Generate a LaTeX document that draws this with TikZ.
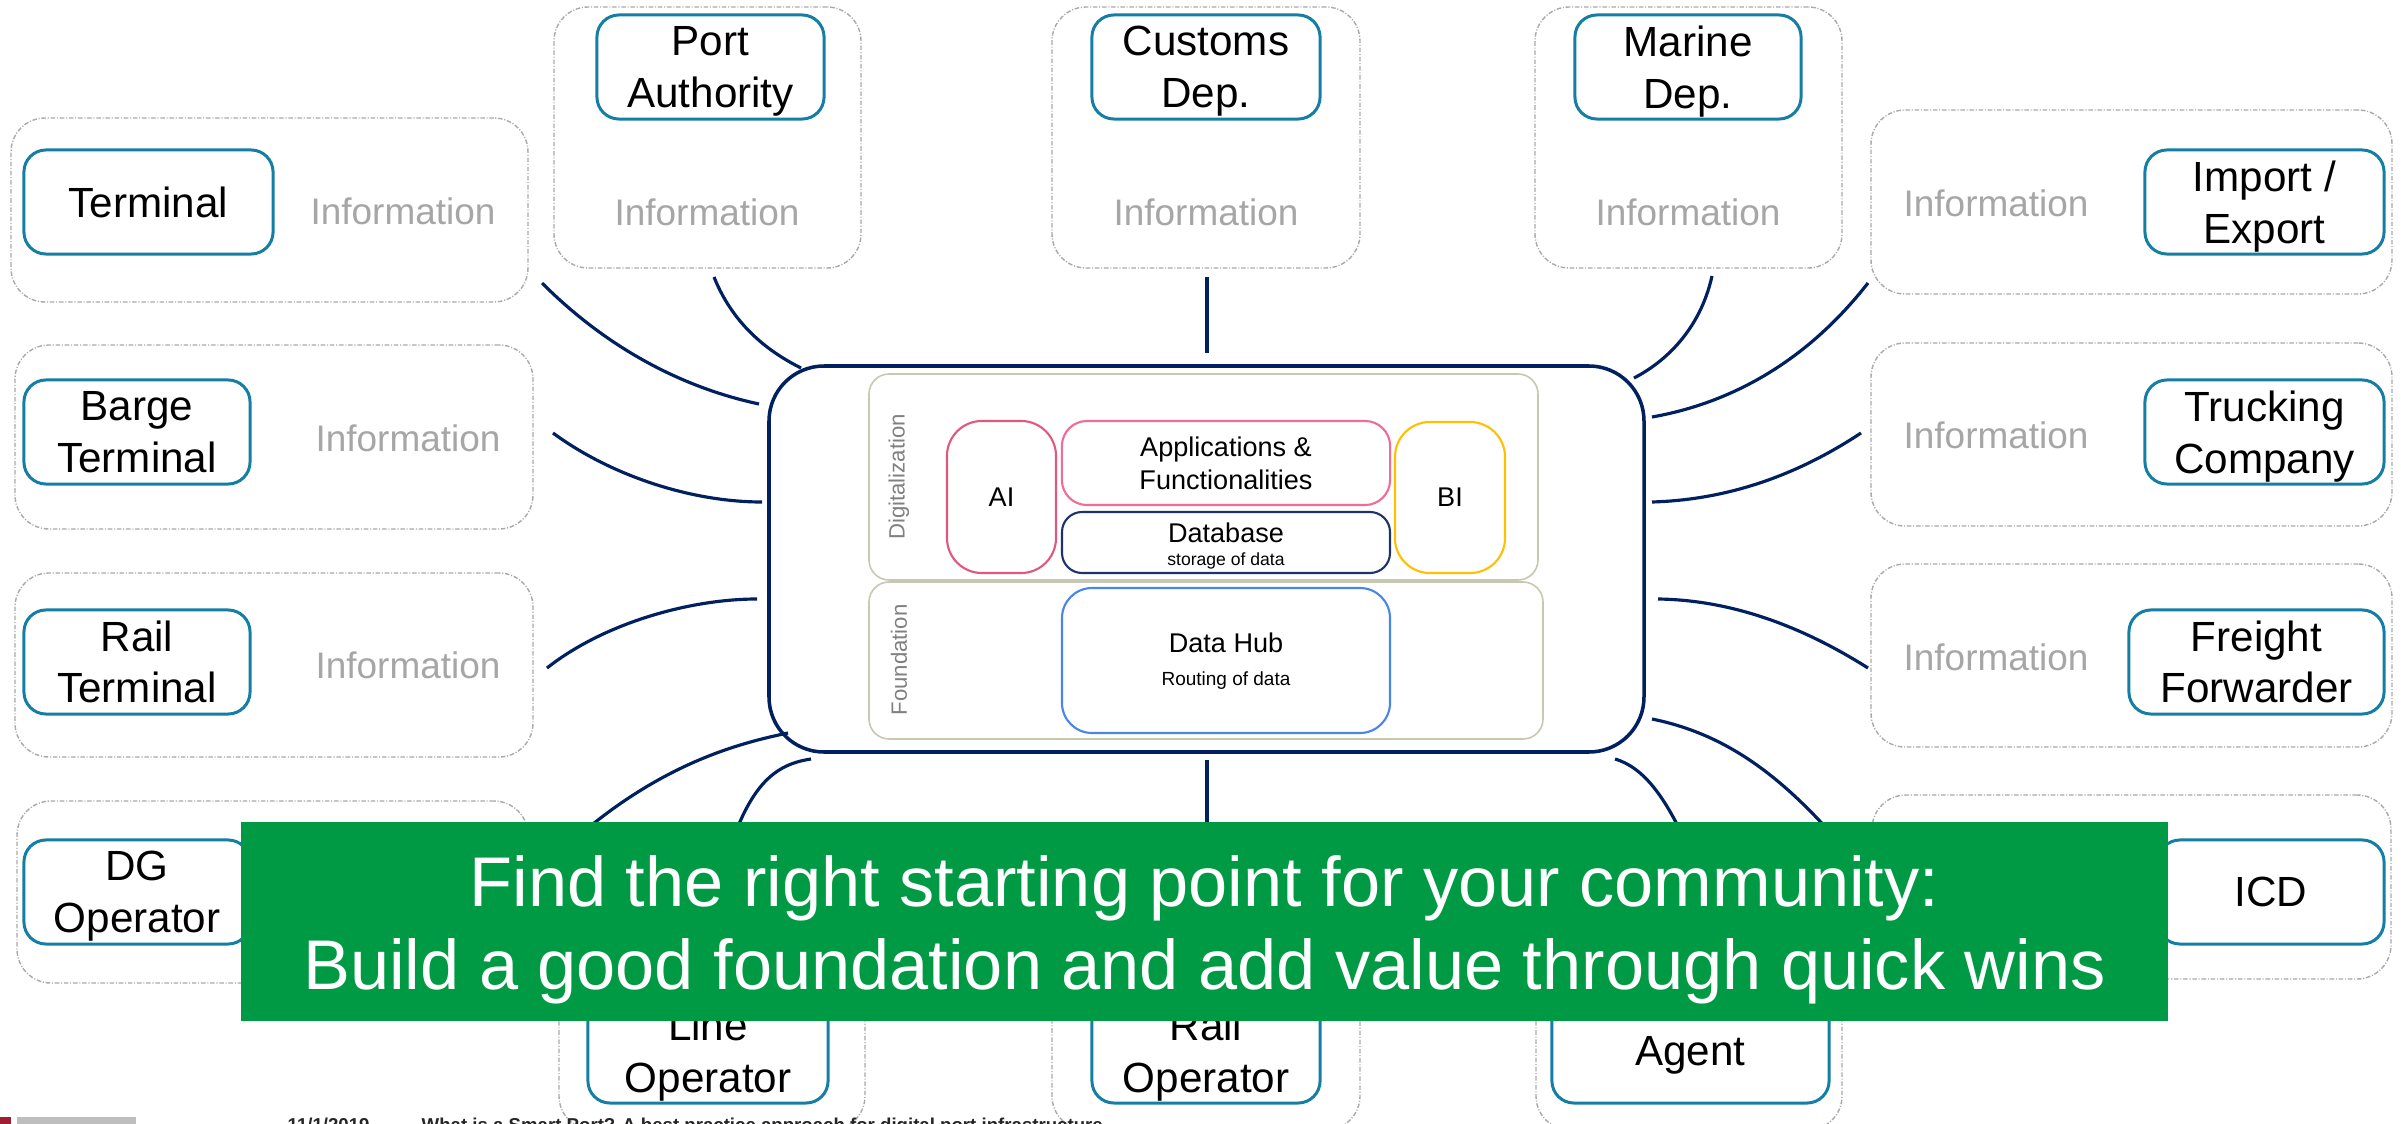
\documentclass[tikz,border=0pt]{standalone}
\usepackage{fontspec}
\setmainfont{Liberation Sans}
\usetikzlibrary{fit}
\definecolor{entc}{RGB}{20,126,164}
\definecolor{grpc}{RGB}{170,170,170}
\definecolor{infoc}{RGB}{166,166,166}
\definecolor{navy}{RGB}{0,32,96}
\definecolor{panelc}{RGB}{200,200,178}
\definecolor{aic}{RGB}{224,88,128}
\definecolor{appc}{RGB}{240,108,148}
\definecolor{bic}{RGB}{255,192,0}
\definecolor{dbc}{RGB}{30,50,110}
\definecolor{hubc}{RGB}{74,134,232}
\definecolor{bannerc}{RGB}{0,154,68}
\definecolor{rotc}{RGB}{128,128,128}
\definecolor{logored}{RGB}{160,30,50}
\definecolor{logogray}{RGB}{190,190,190}
\newcommand{\nd}[1]{\raisebox{0pt}[\height][0pt]{#1}}
\begin{document}
\begin{tikzpicture}[x=0.01cm,y=-0.01cm,
  grp/.style={draw=grpc, line width=0.4pt, dash pattern=on 1.3pt off 0.5pt on 0.3pt off 0.5pt, rounded corners=0.34cm, inner sep=0pt, outer sep=0pt},
  ent/.style={draw=entc, line width=0.85pt, rounded corners=0.22cm, fill=white, inner sep=0pt, outer sep=0pt, align=center, font=\fontsize{12}{14.7}\selectfont, text=black, minimum height=1.04cm},
  info/.style={text=infoc, font=\fontsize{10.5}{12}\selectfont, inner sep=0pt},
  link/.style={draw=navy, line width=0.9pt},
  panel/.style={draw=panelc, line width=0.45pt, rounded corners=0.2cm, inner sep=0pt, outer sep=0pt},
  inbox/.style={line width=0.6pt, inner sep=0pt, outer sep=0pt, align=center, font=\fontsize{7.7}{9.4}\selectfont},
  rot/.style={text=rotc, font=\fontsize{6.3}{7.5}\selectfont, inner sep=0pt, rotate=90},
  small/.style={inner sep=0pt, font=\fontsize{7.7}{9.4}\selectfont},
  bt/.style={text=white, inner sep=0pt, font=\fontsize{20}{24}\selectfont},
  foot/.style={text=black!85, inner sep=0pt, font=\bfseries\fontsize{5.3}{6}\selectfont}
]
\useasboundingbox (0,0) rectangle (2405,1124);
\fill[white] (0,0) rectangle (2405,1124);
\clip (0,0) rectangle (2405,1124);

% group (dashed) boxes
\node[grp, fit={(11,118) (528,302)}] (g1) {};
\node[grp, fit={(15,345) (533,529)}] (g2) {};
\node[grp, fit={(15,573) (533,757)}] (g3) {};
\node[grp, fit={(17,801) (528,983)}] (g4) {};
\node[grp, fit={(554,7) (861,268)}] (g5) {};
\node[grp, fit={(1052,7) (1360,268)}] (g6) {};
\node[grp, fit={(1535,7) (1842,268)}] (g7) {};
\node[grp, fit={(1871,110) (2392,294)}] (g8) {};
\node[grp, fit={(1871,343) (2392,526)}] (g9) {};
\node[grp, fit={(1871,564) (2392,747)}] (g10) {};
\node[grp, fit={(1872,795) (2391,979)}] (g11) {};
\node[grp, fit={(559,867) (865,1130)}] (g12) {};
\node[grp, fit={(1052,867) (1360,1130)}] (g13) {};
\node[grp, fit={(1536,867) (1842,1130)}] (g14) {};

% information labels
\node[info] (i1) at (403,211) {Information};
\node[info] (i2) at (408,438) {Information};
\node[info] (i3) at (408,665) {Information};
\node[info] (i5) at (707,212) {Information};
\node[info] (i6) at (1206,212) {Information};
\node[info] (i7) at (1688,212) {Information};
\node[info] (i8) at (1996,203) {Information};
\node[info] (i9) at (1996,435) {Information};
\node[info] (i10) at (1996,657) {Information};

% entity boxes
\node[ent, minimum width=2.49cm] (terminal) at (148.5,202) {Terminal};
\node[ent, minimum width=2.26cm] (barge) at (137,432) {Barge\\Terminal};
\node[ent, minimum width=2.26cm] (railt) at (137,662) {Rail\\Terminal};
\node[ent, minimum width=2.26cm] (dg) at (137,892) {DG\\\nd{Operator}};
\node[ent, minimum width=2.27cm] (pa) at (710.5,67) {Port\\\nd{Authority}};
\node[ent, minimum width=2.28cm] (customs) at (1206,67) {Customs\\\nd{Dep.}};
\node[ent, minimum width=2.26cm] (marine) at (1688,67) {Marine\\\nd{Dep.}};
\node[ent, minimum width=2.39cm] (impexp) at (2264.5,202) {Import /\\\nd{Export}};
\node[ent, minimum width=2.39cm] (truck) at (2264.5,432) {Trucking\\\nd{Company}};
\node[ent, minimum width=2.55cm] (freight) at (2256.5,662) {Freight\\Forwarder};
\node[ent, minimum width=2.26cm] (icd) at (2271,892) {ICD};
\node[ent, minimum width=2.40cm] (lineop) at (708,1051) {Line\\\nd{Operator}};
\node[ent, minimum width=2.28cm] (railop) at (1206,1051) {Rail\\\nd{Operator}};
\node[ent, minimum width=2.77cm] (agent) at (1690.5,1051) {\nd{Agent}};

% central platform
\node[draw=navy, line width=1pt, rounded corners=0.55cm, inner sep=0pt, outer sep=0pt, fit={(769,366) (1644,752)}] (hub) {};
\node[panel, fit={(869,374) (1538,580)}] (digi) {};
\node[panel, fit={(869,582) (1543,739)}] (found) {};
\node[rot] (digit) at (899,477) {Digitalization};
\node[rot] (foundt) at (899,660) {Foundation};
\node[inbox, draw=aic, rounded corners=0.35cm, minimum width=1.09cm, minimum height=1.52cm] (ai) at (1001.5,497) {AI};
\node[inbox, draw=appc, rounded corners=0.25cm, minimum width=3.28cm, minimum height=0.84cm] (apps) at (1226,463) {Applications \&\\Functionalities};
\node[inbox, draw=dbc, rounded corners=0.2cm, fit={(1062,512) (1390,573)}] (db) {};
\node[small, anchor=base] (dbt) at (1226,542) {Database};
\node[inner sep=0pt, anchor=base, font=\fontsize{5}{6}\selectfont] (dbs) at (1226,565) {storage of data};
\node[inbox, draw=bic, rounded corners=0.35cm, minimum width=1.10cm, minimum height=1.51cm] (bi) at (1450,497.5) {BI};
\node[inbox, draw=hubc, rounded corners=0.3cm, fit={(1062,588) (1390,733)}] (dhub) {};
\node[small, anchor=base] (dht) at (1226,652) {Data Hub};
\node[inner sep=0pt, anchor=base, font=\fontsize{5.4}{6.5}\selectfont] (dhs) at (1226,685) {Routing of data};

% connector end points
\coordinate (tA) at (542,283);  \coordinate (tB) at (759,404);
\coordinate (pA) at (714,277);  \coordinate (pB) at (801,368);
\coordinate (bA) at (553,433);  \coordinate (bB) at (762,502);
\coordinate (rA) at (547,668);  \coordinate (rB) at (757,599);
\coordinate (dA) at (540,872);  \coordinate (dB) at (788,733);
\coordinate (lA) at (720,880);  \coordinate (lB) at (811,759);
\coordinate (cA) at (1207,277); \coordinate (cB) at (1207,353);
\coordinate (oA) at (1207,880); \coordinate (oB) at (1207,760);
\coordinate (mA) at (1712,276); \coordinate (mB) at (1634,378);
\coordinate (xA) at (1868,283); \coordinate (xB) at (1652,417);
\coordinate (kA) at (1861,433); \coordinate (kB) at (1652,502);
\coordinate (fA) at (1868,668); \coordinate (fB) at (1658,599);
\coordinate (iA) at (1862,870); \coordinate (iB) at (1652,719);
\coordinate (aA) at (1705,890); \coordinate (aB) at (1615,759);

% connectors
\draw[link] (tA) .. controls (612,353) and (689,389) .. (tB);
\draw[link] (pA) .. controls (734,327) and (771,353) .. (pB);
\draw[link] (bA) .. controls (610,475) and (690,502) .. (bB);
\draw[link] (rA) .. controls (604,623) and (690,599) .. (rB);
\draw[link] (dB) .. controls (730,745) and (640,770) .. (dA);
\draw[link] (lB) .. controls (770,765) and (745,790) .. (lA);
\draw[link] (cA) -- (cB);
\draw[link] (oB) -- (oA);
\draw[link] (mA) .. controls (1700,330) and (1665,362) .. (mB);
\draw[link] (xA) .. controls (1800,370) and (1720,405) .. (xB);
\draw[link] (kA) .. controls (1790,480) and (1720,500) .. (kB);
\draw[link] (fB) .. controls (1730,600) and (1800,625) .. (fA);
\draw[link] (iB) .. controls (1730,735) and (1790,780) .. (iA);
\draw[link] (aB) .. controls (1645,768) and (1672,800) .. (aA);

% banner
\node[fill=bannerc, inner sep=0pt, outer sep=0pt, fit={(241,822) (2168,1021)}] (banner) {};
\node[bt, anchor=base] (bl1) at (1204.5,906) {Find the right starting point for your community:};
\node[bt, anchor=base] (bl2) at (1204.5,989) {Build a good foundation and add value through quick wins};

% footer
\fill[logored] (0,1117) rectangle (11,1130);
\fill[logogray] (17,1117) rectangle (136,1130);
\node[foot, anchor=base west] (fdate) at (287,1131) {11/1/2019};
\node[foot, anchor=base west] (ftitle) at (421,1131) {What is a Smart Port? A best practice approach for digital port infrastructure};
\end{tikzpicture}
\end{document}
